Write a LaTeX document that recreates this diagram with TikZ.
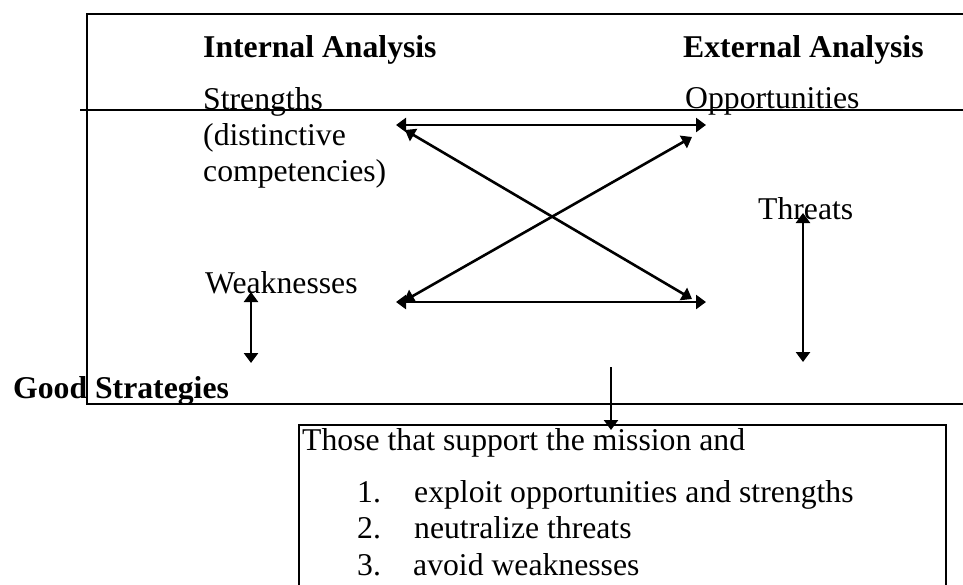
\documentclass[tikz,border=0pt]{standalone}
\usepackage{fontspec}
\setmainfont{Liberation Serif}
\usetikzlibrary{arrows.meta}
\begin{document}
\begin{tikzpicture}[x=1pt,y=-1pt,
  txt/.style={anchor=base west,inner sep=0pt,font=\fontsize{31.7}{36}\selectfont},
  btxt/.style={txt,font=\fontsize{31.7}{36}\selectfont\bfseries},
  frame/.style={line width=1.5pt},
  dbl/.style={line width=2.6pt,{Triangle[length=10pt,width=14pt]}-{Triangle[length=10pt,width=14pt]}},
  sgl/.style={line width=2.3pt,-{Triangle[length=10pt,width=14pt]}}]
\useasboundingbox (0,0) rectangle (963,584);
% frame
\draw[frame] (975,14) -- (87,14) -- (87,404) -- (975,404);
\draw[frame] (80,110) -- (975,110);
% bottom box
\draw[frame] (299,600) -- (299,425) -- (946,425) -- (946,600);
% texts
\node[btxt] (int) at (203,57) {Internal Analysis};
\node[btxt] (ext) at (683,57) {External Analysis};
\node[txt] (str1) at (203,109) {Strengths};
\node[txt] (str2) at (203,145) {(distinctive};
\node[txt] (str3) at (203,181) {competencies)};
\node[txt] (opp) at (685,108) {Opportunities};
\node[txt] (thr) at (758,219) {Threats};
\node[txt] (weak) at (205,293) {Weaknesses};
\node[btxt] (good) at (13,398) {Good Strategies};
\node[txt] (those) at (302,450) {Those that support the mission and};
\node[txt] (n1) at (357,502) {1.};
\node[txt] (i1) at (414,502) {exploit opportunities and strengths};
\node[txt] (n2) at (357,538) {2.};
\node[txt] (i2) at (414,538) {neutralize threats};
\node[txt] (n3) at (357,575) {3.};
\node[txt] (i3) at (413,575) {avoid weaknesses};
% arrow end points
\coordinate (sL) at (396,125);
\coordinate (oR) at (706,125);
\coordinate (sD) at (405,130);
\coordinate (wU) at (692,299);
\coordinate (wD) at (404,301);
\coordinate (oD) at (692,137);
\coordinate (wL) at (396,302);
\coordinate (tR) at (706,302);
\coordinate (wa) at (251,292);
\coordinate (wb) at (251,363);
\coordinate (ta) at (803,213);
\coordinate (tb) at (803,362);
\coordinate (ca) at (611,367);
\coordinate (cb) at (611,430);
% arrows
\draw[dbl] (sL) -- (oR);
\draw[dbl] (sD) -- (wU);
\draw[dbl] (wD) -- (oD);
\draw[dbl] (wL) -- (tR);
\draw[dbl] (wa) -- (wb);
\draw[dbl] (ta) -- (tb);
\draw[sgl] (ca) -- (cb);
\end{tikzpicture}
\end{document}
